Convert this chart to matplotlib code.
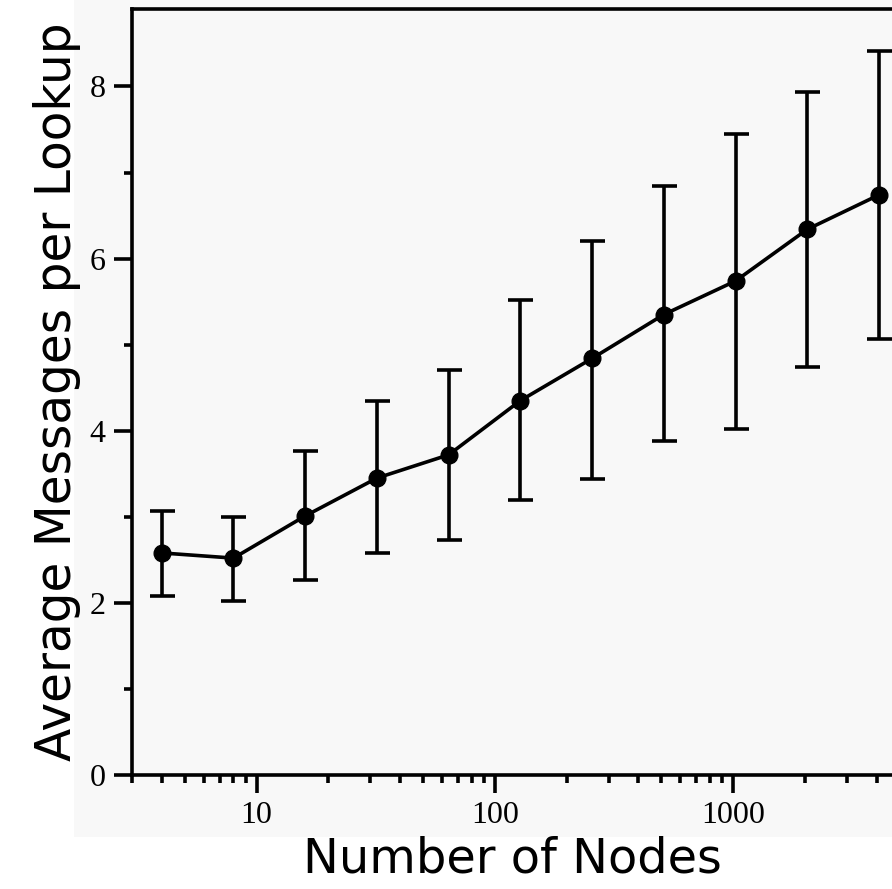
import matplotlib
matplotlib.use("Agg")
import matplotlib.pyplot as plt
from matplotlib.patches import Rectangle
from matplotlib.ticker import LogLocator, NullFormatter, FixedLocator

plt.rcParams["font.family"] = "Liberation Serif"

# data
nodes = [4, 8, 16, 32, 64, 128, 256, 512, 1024, 2048, 4096]
avg_msgs = [2.58, 2.52, 3.01, 3.45, 3.72, 4.35, 4.84, 5.35, 5.74, 6.34, 6.74]
err_low = [2.08, 2.02, 2.26, 2.58, 2.73, 3.20, 3.44, 3.88, 4.02, 4.74, 5.07]
err_high = [3.07, 3.00, 3.76, 4.35, 4.71, 5.52, 6.21, 6.84, 7.45, 7.94, 8.41]

yerr = [[m - lo for m, lo in zip(avg_msgs, err_low)],
        [hi - m for m, hi in zip(avg_msgs, err_high)]]

W, H = 892, 889
fig = plt.figure(figsize=(W / 100, H / 100), dpi=100)
fig.patch.set_facecolor("white")

# light grey panel behind the plot
fig.patches.append(Rectangle((74 / W, 1 - 837 / H), 1 - 74 / W, 837 / H,
                             transform=fig.transFigure, facecolor="#f8f8f8",
                             edgecolor="none", zorder=-10))

ax = fig.add_axes([132 / W, 1 - 775 / H, 1 - 132 / W, (775 - 9) / H])
ax.set_facecolor("#f8f8f8")

ax.errorbar(nodes, avg_msgs, yerr=yerr, color="black", lw=2.6,
            marker="o", ms=12, elinewidth=2.6, capsize=9, capthick=2.6,
            clip_on=False)

ax.set_xscale("log")
ax.set_xlim(3, 4645)
ax.set_ylim(0, 8.9)

ax.xaxis.set_major_locator(FixedLocator([10, 100, 1000]))
ax.xaxis.set_major_formatter(plt.FuncFormatter(lambda v, p: f"{int(v)}"))
ax.xaxis.set_minor_locator(LogLocator(base=10, subs=range(2, 10), numticks=20))
ax.xaxis.set_minor_formatter(NullFormatter())
ax.set_yticks([0, 2, 4, 6, 8])
ax.set_yticks([1, 3, 5, 7], minor=True)

for s in ["left", "bottom", "top"]:
    ax.spines[s].set_linewidth(2.6)
ax.spines["right"].set_visible(False)

ax.tick_params(which="major", direction="out", length=13, width=2.6,
               labelsize=23, pad=6)
ax.tick_params(which="minor", direction="out", length=6, width=2.6)
ax.tick_params(top=False, right=False, which="both")

ax.set_xlabel("Number of Nodes", fontsize=34.5, fontfamily="DejaVu Sans", labelpad=4)
ax.set_ylabel("Average Messages per Lookup", fontsize=35, fontfamily="DejaVu Sans",
              labelpad=6)

fig.savefig("out.png", dpi=100)
